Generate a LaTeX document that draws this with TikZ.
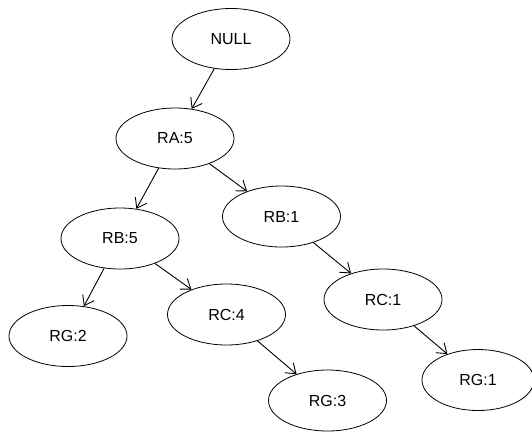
\documentclass[tikz,border=0pt]{standalone}
\usepackage{fontspec}
\setmainfont{Liberation Sans}
\usetikzlibrary{shapes.geometric,arrows.meta}
\begin{document}
\begin{tikzpicture}[x=1pt,y=-1pt,
  tnode/.style={ellipse,draw,line width=0.8pt,minimum width=118pt,minimum height=61pt,inner sep=0pt,font=\fontsize{16}{18}\selectfont},
  edge/.style={line width=0.9pt,-{Straight Barb[length=9pt,width=13pt]}}]
\useasboundingbox (0,0) rectangle (532,432);
\node[tnode] (null) at (231,39) {NULL};
\node[tnode] (ra5) at (175,138.5) {RA:5};
\node[tnode] (rb5) at (120,238.5) {RB:5};
\node[tnode] (rb1) at (281.5,216.5) {RB:1};
\node[tnode] (rg2) at (68,336) {RG:2};
\node[tnode] (rc4) at (226.5,314.5) {RC:4};
\node[tnode] (rc1) at (383,299.5) {RC:1};
\node[tnode] (rg3) at (327.5,400.5) {RG:3};
\node[tnode,minimum width=112pt] (rg1) at (478,380) {RG:1};
\draw[edge] (null) -- (ra5);
\draw[edge] (ra5) -- (rb5);
\draw[edge] (ra5) -- (rb1);
\draw[edge] (rb5) -- (rg2);
\draw[edge] (rb5) -- (rc4);
\draw[edge] (rc4) -- (rg3);
\draw[edge] (rb1) -- (rc1);
\draw[edge] (rc1) -- (rg1);
\end{tikzpicture}
\end{document}
